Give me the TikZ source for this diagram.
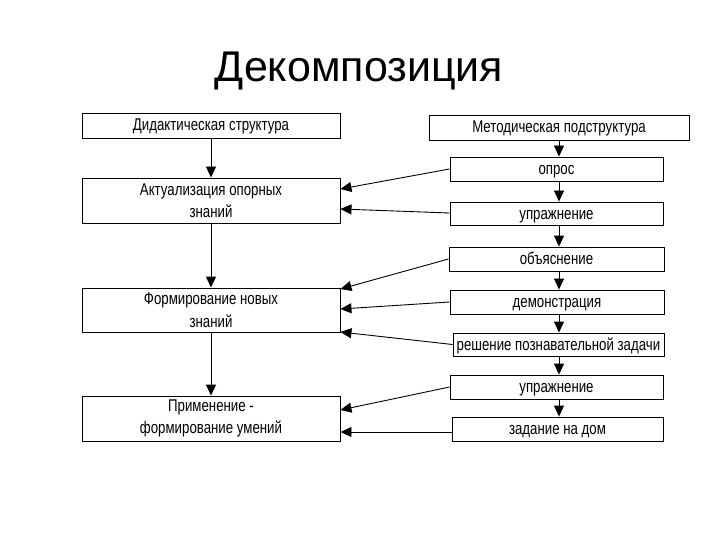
\documentclass[tikz,border=0pt]{standalone}
\usepackage{fontspec}
\setmainfont{Liberation Sans}
\newfontfamily\narrowfont[FakeStretch=0.78]{Liberation Sans}
\usetikzlibrary{arrows.meta}
\begin{document}
\begin{tikzpicture}[x=1pt,y=-1pt,
  bx/.style={draw,line width=0.9pt,rectangle,inner sep=0pt,font=\narrowfont\fontsize{17}{22.5}\selectfont,align=center},
  one/.style={bx,text height=14pt,text depth=3pt},
  arr/.style={line width=0.9pt,-{Triangle[length=11pt,width=10pt]}}]
\useasboundingbox (0,0) rectangle (720,540);
\node[font=\fontsize{43}{48}\selectfont,anchor=base] (title) at (359,82) {Декомпозиция};
% left column
\node[one,minimum width=258pt,minimum height=25pt] (d0) at (211,125.5) {Дидактическая структура};
\node[bx,minimum width=258pt,minimum height=45pt] (d1) at (211,200.5) {Актуализация опорных\\знаний};
\node[bx,minimum width=258pt,minimum height=44pt] (d2) at (211,310) {Формирование новых\\знаний};
\node[bx,minimum width=258pt,minimum height=45pt] (d3) at (211,418.5) {Применение -\\формирование умений};
% right column
\node[one,minimum width=260pt,minimum height=25pt] (m0) at (559,127.5) {Методическая подструктура};
\node[one,minimum width=213pt,minimum height=24pt] (m1) at (556.5,169) {опрос};
\node[one,minimum width=213pt,minimum height=23pt] (m2) at (556.5,213.5) {упражнение};
\node[one,minimum width=215pt,minimum height=24pt] (m3) at (556.5,259) {объяснение};
\node[one,minimum width=214pt,minimum height=24pt] (m4) at (557,302) {демонстрация};
\node[one,minimum width=211pt,minimum height=23pt] (m5) at (558.5,344.5) {решение познавательной задачи};
\node[one,minimum width=213pt,minimum height=24pt] (m6) at (556.5,387) {упражнение};
\node[one,minimum width=211pt,minimum height=24pt] (m7) at (557.5,429) {задание на дом};
% vertical arrows left
\draw[arr] (d0.south) -- (d1.north);
\draw[arr] (d1.south) -- (d2.north);
\draw[arr] (d2.south) -- (d3.north);
% vertical arrows right
\foreach \a/\b in {m0/m1,m1/m2,m2/m3,m3/m4,m4/m5,m5/m6,m6/m7}
  \draw[arr] (\a.south -| 559,0) -- (\b.north -| 559,0);
% horizontal arrows
\draw[arr] (m1.west) -- (d1.east |- 0,189);
\draw[arr] (m2.west |- 0,213) -- (d1.east |- 0,209);
\draw[arr] (m3.west) -- (d2.east |- 0,289);
\draw[arr] (m4.west) -- (d2.east |- 0,309);
\draw[arr] (m5.west) -- (d2.east |- 0,332);
\draw[arr] (m6.west) -- (d3.east |- 0,410);
\draw[arr] (m7.west |- 0,432) -- (d3.east |- 0,432);
\end{tikzpicture}
\end{document}
